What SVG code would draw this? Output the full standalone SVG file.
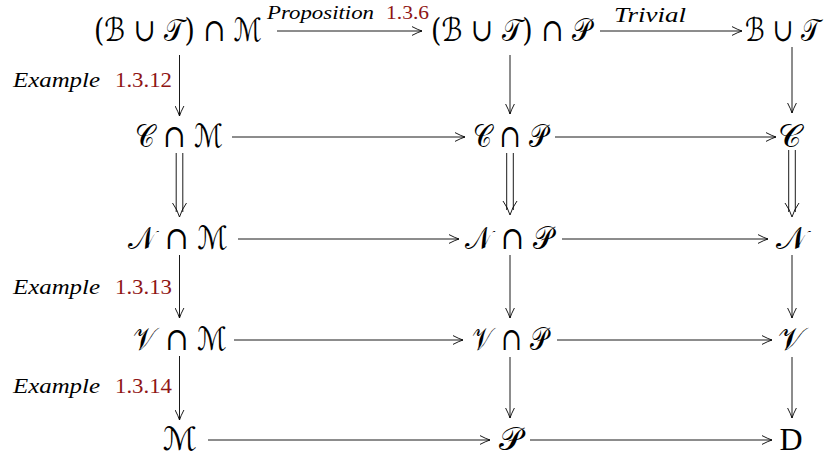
<svg xmlns="http://www.w3.org/2000/svg" width="834" height="459" viewBox="0 0 834 459">
<style>
.n{font-family:"DejaVu Serif","DejaVu Sans","Liberation Serif",serif;font-size:32px;fill:#000;text-anchor:middle}
.lb{font-family:"Liberation Serif",serif;font-size:21px;fill:#000}
.it{font-style:italic}
.red{fill:#8f1515}
.ar{fill:none;stroke:#000;stroke-width:0.9}
</style>
<defs>
<marker id="ah" markerUnits="userSpaceOnUse" markerWidth="12" markerHeight="10" viewBox="0 0 12 10" refX="10.5" refY="5" orient="auto">
<path d="M0.5,0.6 Q7,4 10.5,5 Q7,6 0.5,9.4" fill="none" stroke="#000" stroke-width="0.9"/>
</marker>
</defs>
<rect width="834" height="459" fill="#fff"/>
<g id="n11"><text class="n" x="178" y="41" textLength="168" lengthAdjust="spacingAndGlyphs">(ℬ ∪ 𝒯) ∩ ℳ</text></g>
<g id="n12"><text class="n" x="511" y="41" textLength="160" lengthAdjust="spacingAndGlyphs">(ℬ ∪ 𝒯) ∩ 𝒫</text></g>
<g id="n13"><text class="n" x="783" y="41" textLength="76" lengthAdjust="spacingAndGlyphs">ℬ ∪ 𝒯</text></g>
<g id="n21"><text class="n" x="179" y="147" textLength="88" lengthAdjust="spacingAndGlyphs">𝒞 ∩ ℳ</text></g>
<g id="n22"><text class="n" x="510" y="147" textLength="75" lengthAdjust="spacingAndGlyphs">𝒞 ∩ 𝒫</text></g>
<g id="n23"><text class="n" x="789" y="147">𝒞</text></g>
<g id="n31"><text class="n" x="178" y="249" textLength="100" lengthAdjust="spacingAndGlyphs">𝒩 ∩ ℳ</text></g>
<g id="n32"><text class="n" x="509" y="249" textLength="88" lengthAdjust="spacingAndGlyphs">𝒩 ∩ 𝒫</text></g>
<g id="n33"><text class="n" x="791" y="249">𝒩</text></g>
<g id="n41"><text class="n" x="180" y="350" textLength="94" lengthAdjust="spacingAndGlyphs">𝒱 ∩ ℳ</text></g>
<g id="n42"><text class="n" x="510" y="350" textLength="76" lengthAdjust="spacingAndGlyphs">𝒱 ∩ 𝒫</text></g>
<g id="n43"><text class="n" x="791" y="350">𝒱</text></g>
<g id="n51"><text class="n" x="180" y="450">ℳ</text></g>
<g id="n52"><text class="n" x="510" y="450">𝒫</text></g>
<g id="n53"><text class="n" x="791" y="450" style="font-family:'Liberation Serif',serif">D</text></g>
<g id="connectors">
<line class="ar" x1="277" y1="31" x2="422" y2="31" marker-end="url(#ah)"/>
<line class="ar" x1="600" y1="31" x2="742" y2="31" marker-end="url(#ah)"/>
<line class="ar" x1="232" y1="137" x2="465" y2="137" marker-end="url(#ah)"/>
<line class="ar" x1="555" y1="137" x2="776" y2="137" marker-end="url(#ah)"/>
<line class="ar" x1="238" y1="239" x2="459" y2="239" marker-end="url(#ah)"/>
<line class="ar" x1="562" y1="239" x2="768" y2="239" marker-end="url(#ah)"/>
<line class="ar" x1="234" y1="340" x2="463" y2="340" marker-end="url(#ah)"/>
<line class="ar" x1="557" y1="340" x2="772" y2="340" marker-end="url(#ah)"/>
<line class="ar" x1="208" y1="440" x2="490" y2="440" marker-end="url(#ah)"/>
<line class="ar" x1="530" y1="440" x2="772" y2="440" marker-end="url(#ah)"/>
<line class="ar" x1="179.5" y1="55" x2="179.5" y2="116" marker-end="url(#ah)"/>
<line class="ar" x1="510" y1="55" x2="510" y2="114" marker-end="url(#ah)"/>
<line class="ar" x1="792" y1="47" x2="792" y2="113" marker-end="url(#ah)"/>
<line class="ar" x1="179.5" y1="255" x2="179.5" y2="318" marker-end="url(#ah)"/>
<line class="ar" x1="510" y1="255" x2="510" y2="318" marker-end="url(#ah)"/>
<line class="ar" x1="792" y1="255" x2="792" y2="318" marker-end="url(#ah)"/>
<line class="ar" x1="179.5" y1="356" x2="179.5" y2="420" marker-end="url(#ah)"/>
<line class="ar" x1="510" y1="357" x2="510" y2="418" marker-end="url(#ah)"/>
<line class="ar" x1="792" y1="357" x2="792" y2="418" marker-end="url(#ah)"/>
<path class="ar" d="M176.2,153 V212 M182.8,153 V212 M172.5,203 Q177.5,210 179.5,217 Q181.5,210 186.5,203"/>
<path class="ar" d="M506.7,153 V210 M513.3,153 V210 M503,201 Q508,208 510,215 Q512,208 517,201"/>
<path class="ar" d="M788.7,150 V212 M795.3,150 V212 M785,203 Q790,210 792,217 Q794,210 799,203"/>
<text class="lb" x="267" y="19" style="font-size:19px"><tspan class="it" textLength="107" lengthAdjust="spacingAndGlyphs">Proposition</tspan><tspan class="red" x="386" textLength="43" lengthAdjust="spacingAndGlyphs">1.3.6</tspan></text>
<text class="lb it" x="614" y="22" style="font-size:20px" textLength="72" lengthAdjust="spacingAndGlyphs">Trivial</text>
<text class="lb" x="13" y="87"><tspan class="it" textLength="87" lengthAdjust="spacingAndGlyphs">Example</tspan><tspan class="red" x="115" textLength="57" lengthAdjust="spacingAndGlyphs">1.3.12</tspan></text>
<text class="lb" x="13" y="294"><tspan class="it" textLength="87" lengthAdjust="spacingAndGlyphs">Example</tspan><tspan class="red" x="115" textLength="57" lengthAdjust="spacingAndGlyphs">1.3.13</tspan></text>
<text class="lb" x="13" y="393"><tspan class="it" textLength="87" lengthAdjust="spacingAndGlyphs">Example</tspan><tspan class="red" x="115" textLength="57" lengthAdjust="spacingAndGlyphs">1.3.14</tspan></text>
</g>
</svg>
